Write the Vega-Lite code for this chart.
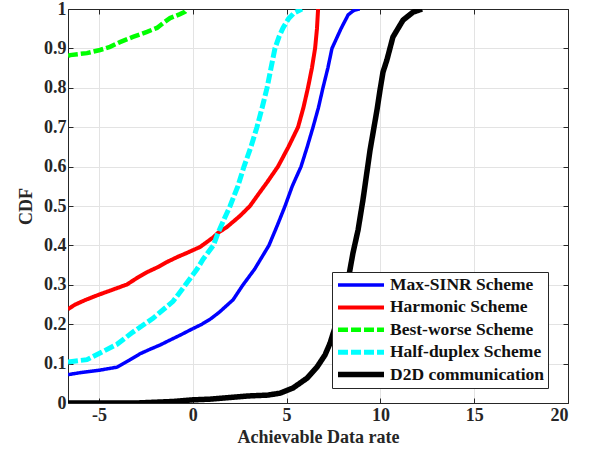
{
  "$schema": "https://vega.github.io/schema/vega-lite/v6.json",
  "width": 500,
  "height": 394,
  "autosize": {"type": "none"},
  "padding": {"left": 68, "top": 9, "right": 25, "bottom": 54},
  "config": {
    "view": {"stroke": "#262626", "strokeWidth": 1},
    "axis": {
      "labelFont": "Liberation Serif", "labelFontWeight": "bold", "labelFontSize": 18, "labelColor": "#262626",
      "titleFont": "Liberation Serif", "titleFontWeight": "bold", "titleFontSize": 18, "titleColor": "#262626",
      "domainColor": "#262626", "tickColor": "#262626", "gridColor": "#e3e3e3", "gridWidth": 1,
      "tickSize": -5
    },
    "legend": {
      "labelFont": "Liberation Serif", "labelFontWeight": "bold", "labelFontSize": 17.5, "labelColor": "#111111",
      "strokeColor": "#262626", "fillColor": "#ffffff", "padding": 3, "cornerRadius": 0,
      "symbolType": "stroke", "symbolSize": 2116, "symbolStrokeWidth": 5, "rowPadding": 2.4, "clipHeight": 20, "labelOffset": 3
    }
  },
  "data": {"values": [
    {"series": "Best-worse Scheme", "x": -6.65, "y": 0.881},
    {"series": "Best-worse Scheme", "x": -6.54, "y": 0.883},
    {"series": "Best-worse Scheme", "x": -5.64, "y": 0.888},
    {"series": "Best-worse Scheme", "x": -4.94, "y": 0.896},
    {"series": "Best-worse Scheme", "x": -4.41, "y": 0.904},
    {"series": "Best-worse Scheme", "x": -3.88, "y": 0.916},
    {"series": "Best-worse Scheme", "x": -3.19, "y": 0.929},
    {"series": "Best-worse Scheme", "x": -2.44, "y": 0.942},
    {"series": "Best-worse Scheme", "x": -1.91, "y": 0.952},
    {"series": "Best-worse Scheme", "x": -1.59, "y": 0.964},
    {"series": "Best-worse Scheme", "x": -1.21, "y": 0.977},
    {"series": "Best-worse Scheme", "x": -0.68, "y": 0.987},
    {"series": "Best-worse Scheme", "x": -0.41, "y": 0.993},
    {"series": "Best-worse Scheme", "x": -0.3, "y": 1.0},

    {"series": "Harmonic Scheme", "x": -6.65, "y": 0.238},
    {"series": "Harmonic Scheme", "x": -6.3, "y": 0.249},
    {"series": "Harmonic Scheme", "x": -5.7, "y": 0.262},
    {"series": "Harmonic Scheme", "x": -5.0, "y": 0.275},
    {"series": "Harmonic Scheme", "x": -4.3, "y": 0.287},
    {"series": "Harmonic Scheme", "x": -3.5, "y": 0.301},
    {"series": "Harmonic Scheme", "x": -2.95, "y": 0.318},
    {"series": "Harmonic Scheme", "x": -2.44, "y": 0.332},
    {"series": "Harmonic Scheme", "x": -1.9, "y": 0.344},
    {"series": "Harmonic Scheme", "x": -1.37, "y": 0.358},
    {"series": "Harmonic Scheme", "x": -0.8, "y": 0.371},
    {"series": "Harmonic Scheme", "x": -0.31, "y": 0.381},
    {"series": "Harmonic Scheme", "x": 0.39, "y": 0.396},
    {"series": "Harmonic Scheme", "x": 1.08, "y": 0.42},
    {"series": "Harmonic Scheme", "x": 1.35, "y": 0.432},
    {"series": "Harmonic Scheme", "x": 1.83, "y": 0.447},
    {"series": "Harmonic Scheme", "x": 2.52, "y": 0.475},
    {"series": "Harmonic Scheme", "x": 3.05, "y": 0.5},
    {"series": "Harmonic Scheme", "x": 3.5, "y": 0.53},
    {"series": "Harmonic Scheme", "x": 3.96, "y": 0.56},
    {"series": "Harmonic Scheme", "x": 4.54, "y": 0.6},
    {"series": "Harmonic Scheme", "x": 5.1, "y": 0.65},
    {"series": "Harmonic Scheme", "x": 5.61, "y": 0.7},
    {"series": "Harmonic Scheme", "x": 5.9, "y": 0.75},
    {"series": "Harmonic Scheme", "x": 6.14, "y": 0.8},
    {"series": "Harmonic Scheme", "x": 6.35, "y": 0.85},
    {"series": "Harmonic Scheme", "x": 6.52, "y": 0.9},
    {"series": "Harmonic Scheme", "x": 6.62, "y": 0.95},
    {"series": "Harmonic Scheme", "x": 6.68, "y": 1.0},

    {"series": "Max-SINR Scheme", "x": -6.65, "y": 0.072},
    {"series": "Max-SINR Scheme", "x": -6.0, "y": 0.077},
    {"series": "Max-SINR Scheme", "x": -5.0, "y": 0.083},
    {"series": "Max-SINR Scheme", "x": -4.04, "y": 0.091},
    {"series": "Max-SINR Scheme", "x": -3.4, "y": 0.108},
    {"series": "Max-SINR Scheme", "x": -2.81, "y": 0.125},
    {"series": "Max-SINR Scheme", "x": -2.2, "y": 0.138},
    {"series": "Max-SINR Scheme", "x": -1.75, "y": 0.147},
    {"series": "Max-SINR Scheme", "x": -1.2, "y": 0.16},
    {"series": "Max-SINR Scheme", "x": -0.68, "y": 0.172},
    {"series": "Max-SINR Scheme", "x": -0.15, "y": 0.185},
    {"series": "Max-SINR Scheme", "x": 0.49, "y": 0.2},
    {"series": "Max-SINR Scheme", "x": 1.0, "y": 0.215},
    {"series": "Max-SINR Scheme", "x": 1.45, "y": 0.232},
    {"series": "Max-SINR Scheme", "x": 2.15, "y": 0.262},
    {"series": "Max-SINR Scheme", "x": 2.68, "y": 0.3},
    {"series": "Max-SINR Scheme", "x": 3.3, "y": 0.34},
    {"series": "Max-SINR Scheme", "x": 4.06, "y": 0.4},
    {"series": "Max-SINR Scheme", "x": 4.5, "y": 0.45},
    {"series": "Max-SINR Scheme", "x": 4.92, "y": 0.5},
    {"series": "Max-SINR Scheme", "x": 5.3, "y": 0.55},
    {"series": "Max-SINR Scheme", "x": 5.77, "y": 0.6},
    {"series": "Max-SINR Scheme", "x": 6.1, "y": 0.65},
    {"series": "Max-SINR Scheme", "x": 6.41, "y": 0.7},
    {"series": "Max-SINR Scheme", "x": 6.7, "y": 0.75},
    {"series": "Max-SINR Scheme", "x": 6.94, "y": 0.8},
    {"series": "Max-SINR Scheme", "x": 7.2, "y": 0.85},
    {"series": "Max-SINR Scheme", "x": 7.42, "y": 0.9},
    {"series": "Max-SINR Scheme", "x": 7.9, "y": 0.95},
    {"series": "Max-SINR Scheme", "x": 8.28, "y": 0.985},
    {"series": "Max-SINR Scheme", "x": 8.6, "y": 0.997},
    {"series": "Max-SINR Scheme", "x": 8.9, "y": 1.0},

    {"series": "Half-duplex Scheme", "x": -6.65, "y": 0.104},
    {"series": "Half-duplex Scheme", "x": -6.0, "y": 0.108},
    {"series": "Half-duplex Scheme", "x": -5.64, "y": 0.11},
    {"series": "Half-duplex Scheme", "x": -4.94, "y": 0.127},
    {"series": "Half-duplex Scheme", "x": -4.04, "y": 0.149},
    {"series": "Half-duplex Scheme", "x": -3.19, "y": 0.18},
    {"series": "Half-duplex Scheme", "x": -2.12, "y": 0.215},
    {"series": "Half-duplex Scheme", "x": -1.05, "y": 0.258},
    {"series": "Half-duplex Scheme", "x": -0.31, "y": 0.305},
    {"series": "Half-duplex Scheme", "x": 0.23, "y": 0.34},
    {"series": "Half-duplex Scheme", "x": 0.55, "y": 0.365},
    {"series": "Half-duplex Scheme", "x": 1.1, "y": 0.4},
    {"series": "Half-duplex Scheme", "x": 1.35, "y": 0.432},
    {"series": "Half-duplex Scheme", "x": 1.61, "y": 0.46},
    {"series": "Half-duplex Scheme", "x": 1.99, "y": 0.5},
    {"series": "Half-duplex Scheme", "x": 2.4, "y": 0.55},
    {"series": "Half-duplex Scheme", "x": 2.73, "y": 0.6},
    {"series": "Half-duplex Scheme", "x": 3.1, "y": 0.65},
    {"series": "Half-duplex Scheme", "x": 3.42, "y": 0.7},
    {"series": "Half-duplex Scheme", "x": 3.7, "y": 0.75},
    {"series": "Half-duplex Scheme", "x": 3.96, "y": 0.8},
    {"series": "Half-duplex Scheme", "x": 4.17, "y": 0.85},
    {"series": "Half-duplex Scheme", "x": 4.38, "y": 0.9},
    {"series": "Half-duplex Scheme", "x": 4.6, "y": 0.93},
    {"series": "Half-duplex Scheme", "x": 4.81, "y": 0.952},
    {"series": "Half-duplex Scheme", "x": 5.1, "y": 0.975},
    {"series": "Half-duplex Scheme", "x": 5.4, "y": 0.99},
    {"series": "Half-duplex Scheme", "x": 5.82, "y": 1.0},

    {"series": "D2D communication", "x": -6.65, "y": 0.0},
    {"series": "D2D communication", "x": -3.0, "y": 0.0},
    {"series": "D2D communication", "x": -2.0, "y": 0.002},
    {"series": "D2D communication", "x": -1.0, "y": 0.004},
    {"series": "D2D communication", "x": 0.0, "y": 0.008},
    {"series": "D2D communication", "x": 1.0, "y": 0.01},
    {"series": "D2D communication", "x": 2.0, "y": 0.014},
    {"series": "D2D communication", "x": 3.0, "y": 0.018},
    {"series": "D2D communication", "x": 4.0, "y": 0.02},
    {"series": "D2D communication", "x": 4.65, "y": 0.025},
    {"series": "D2D communication", "x": 5.34, "y": 0.038},
    {"series": "D2D communication", "x": 6.09, "y": 0.063},
    {"series": "D2D communication", "x": 6.62, "y": 0.091},
    {"series": "D2D communication", "x": 7.05, "y": 0.122},
    {"series": "D2D communication", "x": 7.32, "y": 0.152},
    {"series": "D2D communication", "x": 7.47, "y": 0.175},
    {"series": "D2D communication", "x": 7.95, "y": 0.244},
    {"series": "D2D communication", "x": 8.28, "y": 0.312},
    {"series": "D2D communication", "x": 8.54, "y": 0.381},
    {"series": "D2D communication", "x": 8.81, "y": 0.439},
    {"series": "D2D communication", "x": 9.07, "y": 0.515},
    {"series": "D2D communication", "x": 9.45, "y": 0.642},
    {"series": "D2D communication", "x": 9.82, "y": 0.744},
    {"series": "D2D communication", "x": 9.98, "y": 0.794},
    {"series": "D2D communication", "x": 10.14, "y": 0.84},
    {"series": "D2D communication", "x": 10.35, "y": 0.871},
    {"series": "D2D communication", "x": 10.67, "y": 0.929},
    {"series": "D2D communication", "x": 11.21, "y": 0.972},
    {"series": "D2D communication", "x": 11.74, "y": 0.992},
    {"series": "D2D communication", "x": 12.22, "y": 1.0}
  ]},
  "layer": [
    {
      "mark": {"type": "line", "clip": true},
      "encoding": {
        "x": {"field": "x", "type": "quantitative", "scale": {"domain": [-6.65, 20], "nice": false, "zero": false},
              "axis": {"values": [-5, 0, 5, 10, 15, 20], "title": "Achievable Data rate", "labelExpr": "toString(datum.value)", "labelPadding": 8, "titlePadding": 4, "grid": true}},
        "y": {"field": "y", "type": "quantitative", "scale": {"domain": [0, 1], "nice": false},
              "axis": {"values": [0, 0.1, 0.2, 0.3, 0.4, 0.5, 0.6, 0.7, 0.8, 0.9, 1], "format": "~g", "title": "CDF", "labelPadding": 7, "titlePadding": 8, "grid": true}},
        "color": {"field": "series", "type": "nominal",
                  "scale": {"domain": ["Max-SINR Scheme", "Harmonic Scheme", "Best-worse Scheme", "Half-duplex Scheme", "D2D communication"],
                            "range": ["#0000ff", "#ff0000", "#00ff00", "#00ffff", "#000000"]},
                  "legend": {"title": null, "orient": "none", "legendX": 264, "legendY": 263}},
        "strokeDash": {"field": "series", "type": "nominal",
                  "scale": {"domain": ["Max-SINR Scheme", "Harmonic Scheme", "Best-worse Scheme", "Half-duplex Scheme", "D2D communication"],
                            "range": [[1, 0], [1, 0], [10, 3], [10, 3], [1, 0]]},
                  "legend": {"title": null, "orient": "none", "legendX": 264, "legendY": 263}},
        "strokeWidth": {"field": "series", "type": "nominal",
                  "scale": {"domain": ["Max-SINR Scheme", "Harmonic Scheme", "Best-worse Scheme", "Half-duplex Scheme", "D2D communication"],
                            "range": [3.5, 5.5, 5, 5, 5]},
                  "legend": {"title": null, "orient": "none", "legendX": 264, "legendY": 263}}
      }
    },
    {
      "mark": {"type": "line", "opacity": 0},
      "encoding": {
        "x": {"field": "x", "type": "quantitative",
              "axis": {"orient": "top", "values": [-5, 0, 5, 10, 15, 20], "labels": false, "title": null, "grid": false}},
        "y": {"field": "y", "type": "quantitative",
              "axis": {"orient": "right", "values": [0, 0.1, 0.2, 0.3, 0.4, 0.5, 0.6, 0.7, 0.8, 0.9, 1], "labels": false, "title": null, "grid": false}},
        "detail": {"field": "series", "type": "nominal"}
      }
    }
  ],
  "resolve": {"axis": {"x": "independent", "y": "independent"}}
}
